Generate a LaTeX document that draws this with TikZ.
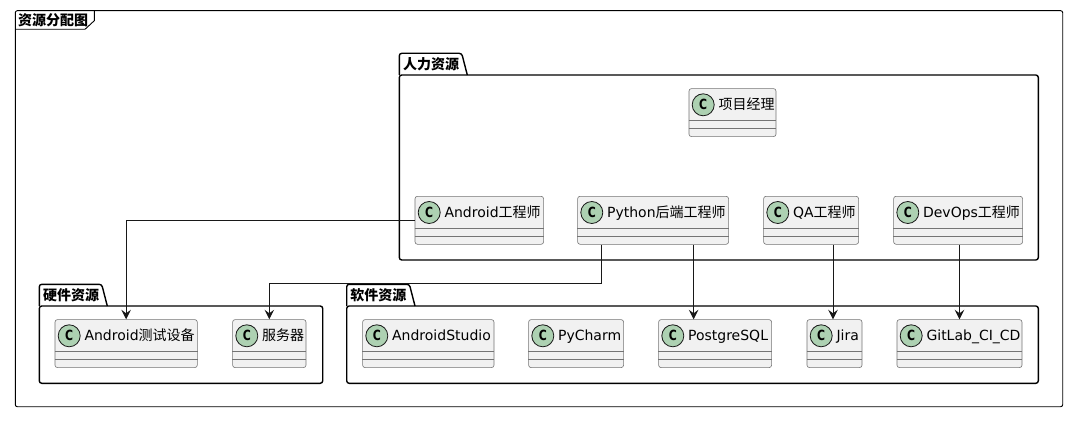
\documentclass[tikz,border=0pt]{standalone}
\usepackage{fontspec}
\setmainfont{DejaVu Sans}
\newfontfamily\cjk{Noto Sans CJK SC}
\newfontfamily\cmarkfont[FakeStretch=0.78]{DejaVu Sans}
\usetikzlibrary{arrows.meta}
\definecolor{boxfill}{HTML}{F1F1F1}
\definecolor{boxline}{HTML}{181818}
\definecolor{circfill}{HTML}{ADD1B2}
\tikzset{
 classbox/.style={draw=boxline!60, line width=0.6pt, fill=boxfill, rounded corners=2.5pt, minimum height=48pt, inner sep=0pt, anchor=north west},
 sepline/.style={draw=boxline!60, line width=0.6pt},
 circmark/.style={circle, draw=boxline, line width=0.8pt, fill=circfill, minimum size=22pt, inner sep=0pt, font=\cmarkfont\bfseries\fontsize{14}{14}\selectfont},
 clabel/.style={anchor=base west, inner sep=0pt, font=\fontsize{14}{14}\selectfont},
 pkg/.style={draw=black, line width=1.4pt, rounded corners=2.5pt},
 pkglabel/.style={anchor=base west, inner sep=0pt, font=\cjk\bfseries\fontsize{14}{14}\selectfont},
 arr/.style={draw=boxline, line width=0.9pt, -{Stealth[length=9.5pt,width=9.5pt,inset=3.5pt]}},
}
\newcommand\umlclass[5]{%
 \node[classbox, minimum width=#4pt] (#1) at (#2,#3) {};
 \draw[sepline] ([yshift=-32pt]#1.north west) -- ([yshift=-32pt]#1.north east);
 \draw[sepline] ([yshift=-40.3pt]#1.north west) -- ([yshift=-40.3pt]#1.north east);
 \node[circmark] (#1c) at ([xshift=14.5pt,yshift=-16.5pt]#1.north west) {C};
 \node[clabel] (#1t) at ([xshift=29.6pt,yshift=-21.3pt]#1.north west) {#5};
}
\begin{document}
\begin{tikzpicture}[x=1pt,y=-1pt]
\useasboundingbox (0,0) rectangle (1088,436);
\fill[white] (0,0) rectangle (1088,436);
% outer frame
\draw[line width=0.9pt, rounded corners=2pt] (15.3,10.7) rectangle (1062.7,406.7);
\draw[line width=0.9pt] (15.3,29.3) -- (85,29.3) -- (94.3,20.7) -- (94.3,10.7);
\node[pkglabel] (title) at (18,25.3) {资源分配图};
% packages
\draw[pkg] (399.3,75) -- (399.3,53.3) -- (461.7,53.3) -- (467.3,75);
\draw[pkg] (399.3,75) rectangle (1038.3,260);
\node[pkglabel] (hr) at (402.8,69.6) {人力资源};
\draw[pkg] (39.3,306) -- (39.3,284.3) -- (101.7,284.3) -- (107.3,306);
\draw[pkg] (39.3,306) rectangle (322.7,383.3);
\node[pkglabel] (hw) at (42.8,300.6) {硬件资源};
\draw[pkg] (346.7,306) -- (346.7,284.3) -- (409.4,284.3) -- (415,306);
\draw[pkg] (346.7,306) rectangle (1038.3,383.3);
\node[pkglabel] (sw) at (350.2,300.6) {软件资源};
% classes
\umlclass{pm}{688.7}{88.3}{87}{{\cjk 项目经理}}
\umlclass{aeng}{414.7}{196}{128.6}{Android{\cjk 工程师}}
\umlclass{py}{577.3}{196}{151}{Python{\cjk 后端工程师}}
\umlclass{qa}{763.3}{196}{95}{QA{\cjk 工程师}}
\umlclass{devops}{893.3}{196}{129}{DevOps{\cjk 工程师}}
\umlclass{atd}{54.7}{319.3}{142.3}{Android{\cjk 测试设备}}
\umlclass{srv}{232.3}{319.3}{73.4}{{\cjk 服务器}}
\umlclass{as}{362.3}{319.3}{131.4}{AndroidStudio}
\umlclass{pc}{528.3}{319.3}{95}{PyCharm}
\umlclass{pg}{658.3}{319.3}{113}{PostgreSQL}
\umlclass{jira}{806.7}{319.3}{55}{Jira}
\umlclass{gl}{896.7}{319.3}{125}{GitLab\_CI\_CD}
% connectors
\draw[arr] (aeng.west) -| (atd.north);
\coordinate (pya) at ([xshift=-52.1pt]py.south);
\coordinate (pyb) at ([xshift=40.5pt]py.south);
\coordinate (qab) at ([xshift=21.9pt]qa.south);
\draw[arr] (pya) -- ++(0,38.7) -| (srv.north);
\draw[arr] (pyb) -- (pyb |- pg.north);
\draw[arr] (qab) -- (qab |- jira.north);
\draw[arr] (devops.south -| gl.north) -- (gl.north);
\end{tikzpicture}
\end{document}
